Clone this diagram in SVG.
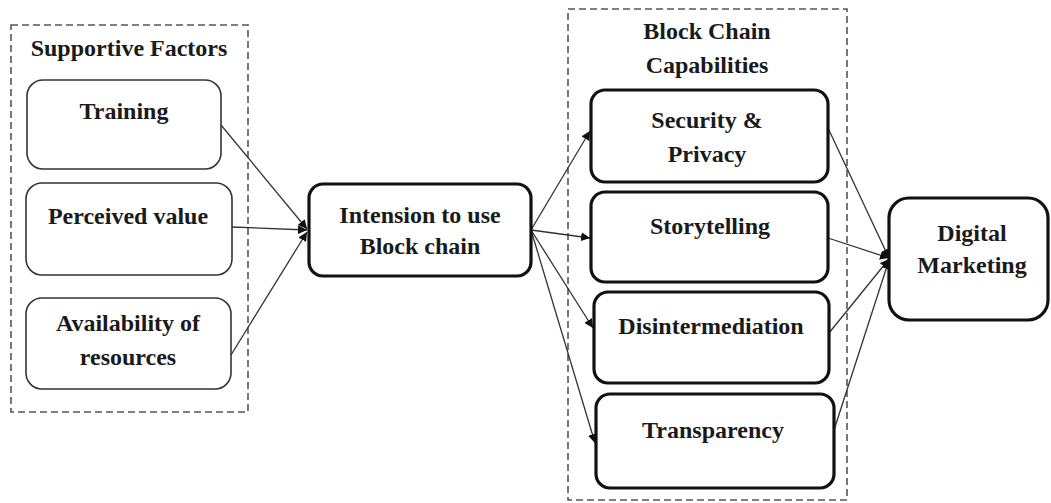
<svg xmlns="http://www.w3.org/2000/svg" width="1051" height="503" viewBox="0 0 1051 503">
  <style>
    .lbl { font-family: "Liberation Serif", "Times New Roman", serif; font-weight: bold; font-size: 24px; fill: #1a1a1a; text-anchor: middle; }
    .group { fill: none; stroke: #555; stroke-width: 1.6; stroke-dasharray: 7 4; }
    .thin { fill: #fff; stroke: #333; stroke-width: 1.6; }
    .thick { fill: #fff; stroke: #111; stroke-width: 3.2; }
    .conn { stroke: #333; stroke-width: 1.3; fill: none; marker-end: url(#arrow); }
  </style>
  <defs>
    <marker id="arrow" viewBox="0 0 10 10" refX="10" refY="5" markerWidth="9" markerHeight="9" markerUnits="userSpaceOnUse" orient="auto">
      <path d="M0,0 L10,5 L0,10 z" fill="#111"/>
    </marker>
  </defs>
  <rect width="1051" height="503" fill="#fff"/>

  <!-- grouping frames -->
  <g id="supportive-factors">
    <rect class="group" x="11" y="25" width="237" height="387"/>
    <text class="lbl" x="129" y="56">Supportive Factors</text>
  </g>
  <g id="capabilities">
    <rect class="group" x="568" y="9" width="279" height="491"/>
    <text class="lbl" x="707" y="39">Block Chain</text>
    <text class="lbl" x="707" y="73">Capabilities</text>
  </g>

  <!-- connectors -->
  <g id="connectors">
    <line class="conn" x1="221" y1="125" x2="307" y2="229"/>
    <line class="conn" x1="232" y1="227" x2="307" y2="230"/>
    <line class="conn" x1="231" y1="355" x2="307" y2="232"/>
    <line class="conn" x1="531" y1="230" x2="590" y2="131"/>
    <line class="conn" x1="531" y1="230" x2="590" y2="238"/>
    <line class="conn" x1="531" y1="230" x2="593" y2="328"/>
    <line class="conn" x1="531" y1="230" x2="595" y2="443"/>
    <line class="conn" x1="828" y1="128" x2="889" y2="258"/>
    <line class="conn" x1="828" y1="238" x2="889" y2="258"/>
    <line class="conn" x1="829" y1="333" x2="889" y2="259"/>
    <line class="conn" x1="834" y1="430" x2="889" y2="260"/>
  </g>

  <!-- nodes -->
  <g id="training">
    <rect class="thin" x="27" y="80" width="194" height="89" rx="16"/>
    <text class="lbl" x="124" y="119">Training</text>
  </g>
  <g id="perceived-value">
    <rect class="thin" x="26" y="183" width="206" height="92" rx="16"/>
    <text class="lbl" x="128" y="224">Perceived value</text>
  </g>
  <g id="availability">
    <rect class="thin" x="26" y="298" width="205" height="91" rx="16"/>
    <text class="lbl" x="128" y="331">Availability of</text>
    <text class="lbl" x="128" y="365">resources</text>
  </g>
  <g id="intension">
    <rect class="thick" x="309" y="184" width="222" height="92" rx="14"/>
    <text class="lbl" x="420" y="223">Intension to use</text>
    <text class="lbl" x="420" y="254">Block chain</text>
  </g>
  <g id="security">
    <rect class="thick" x="591" y="90" width="237" height="92" rx="14"/>
    <text class="lbl" x="707" y="128">Security &amp;</text>
    <text class="lbl" x="707" y="162">Privacy</text>
  </g>
  <g id="storytelling">
    <rect class="thick" x="591" y="192" width="237" height="90" rx="14"/>
    <text class="lbl" x="710" y="234">Storytelling</text>
  </g>
  <g id="disintermediation">
    <rect class="thick" x="594" y="292" width="235" height="91" rx="14"/>
    <text class="lbl" x="711" y="334">Disintermediation</text>
  </g>
  <g id="transparency">
    <rect class="thick" x="596" y="394" width="238" height="94" rx="14"/>
    <text class="lbl" x="713" y="438">Transparency</text>
  </g>
  <g id="digital-marketing">
    <rect class="thick" x="889" y="198" width="159" height="122" rx="20"/>
    <text class="lbl" x="972" y="241">Digital</text>
    <text class="lbl" x="972" y="273">Marketing</text>
  </g>
</svg>
